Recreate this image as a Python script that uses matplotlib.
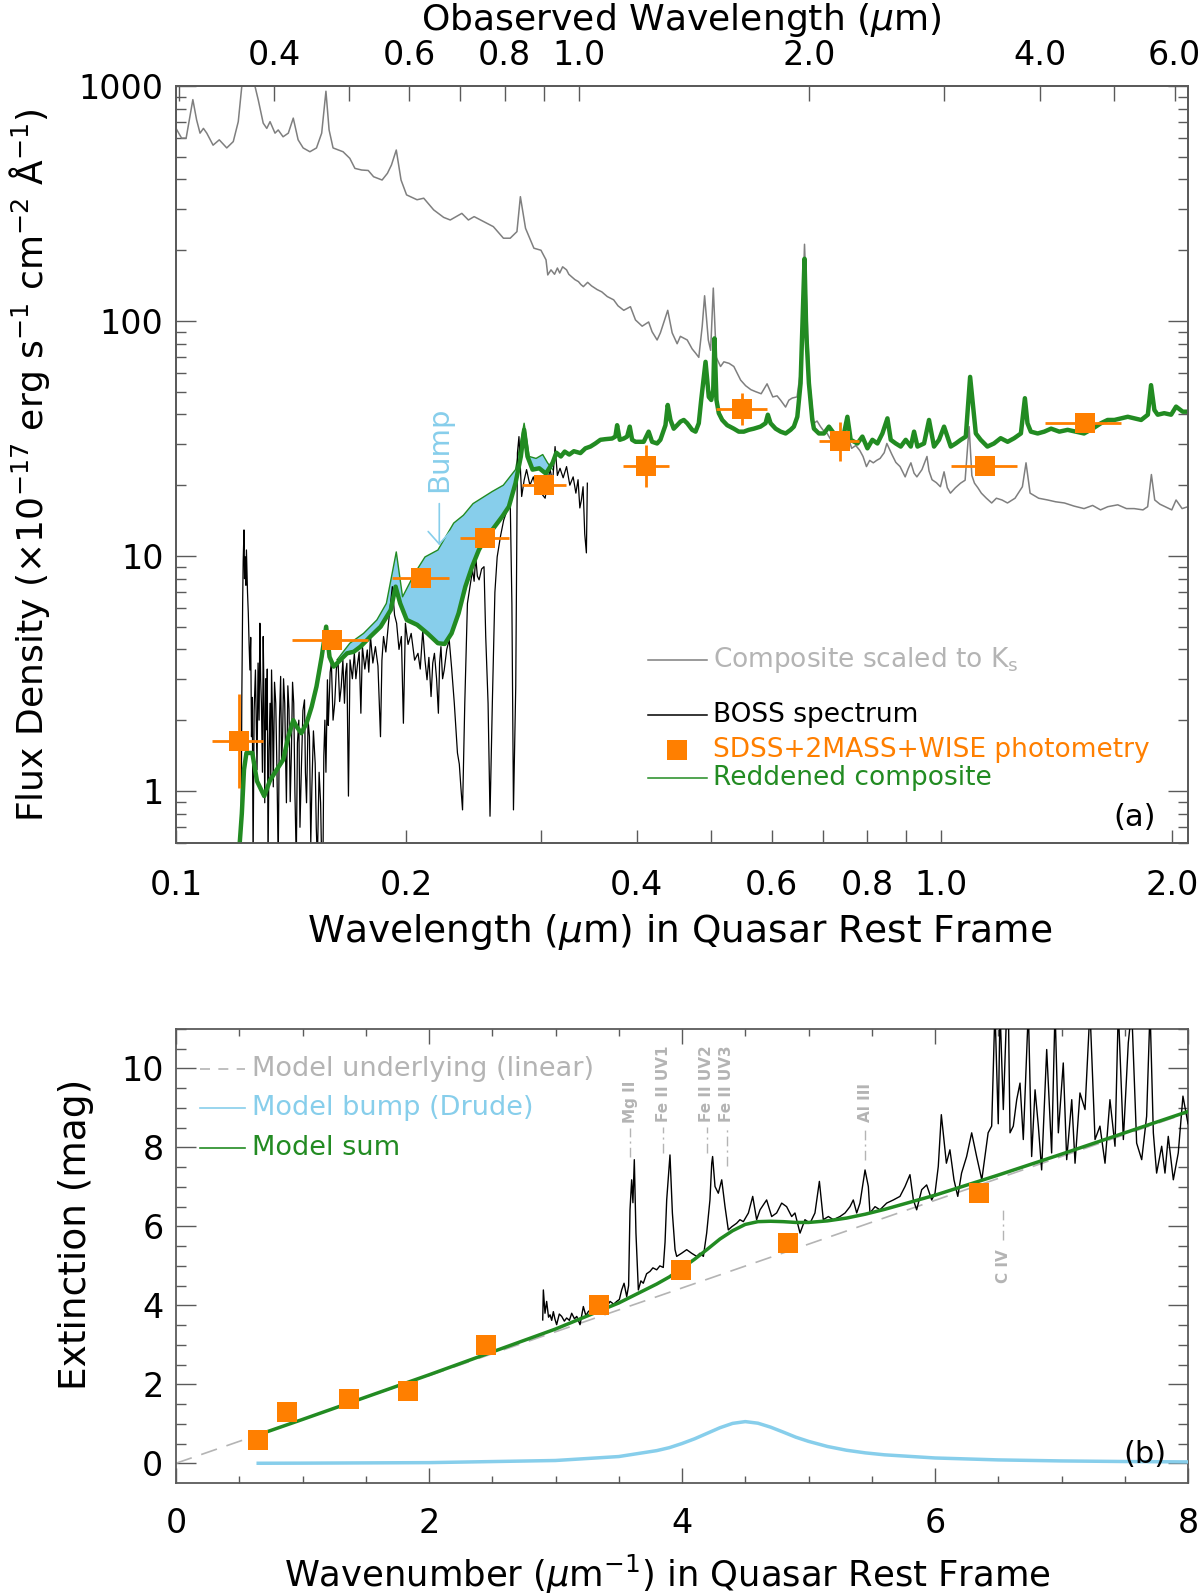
import numpy as np
import matplotlib
matplotlib.use('Agg')
import matplotlib.pyplot as plt
from matplotlib.ticker import NullLocator

plt.rcParams['font.family'] = ['DejaVu Sans']
plt.rcParams['mathtext.default'] = 'regular'
plt.rcParams['mathtext.fontset'] = 'dejavusans'

# ---------------- panel (a): flux density vs rest wavelength ----------------
ONE_PLUS_Z = 2.975

# composite quasar spectrum scaled to Ks  (rest wavelength um, flux)
composite = [
    (0.1000, 660), (0.1017, 600), (0.1031, 600), (0.1041, 717), (0.1052, 875), (0.1064, 717),
    (0.1075, 630), (0.1086, 660), (0.1097, 630), (0.1118, 560), (0.1139, 590), (0.1165, 545),
    (0.1188, 580), (0.1206, 705), (0.1219, 1000), (0.1240, 1600), (0.1268, 1000), (0.1281, 870),
    (0.1300, 695), (0.1314, 660), (0.1327, 705), (0.1347, 630), (0.1360, 650), (0.1380, 608),
    (0.1402, 630), (0.1423, 730), (0.1444, 590), (0.1466, 545), (0.1496, 525), (0.1526, 545),
    (0.1550, 630), (0.1570, 950), (0.1585, 650), (0.1604, 545), (0.1653, 525), (0.1687, 492),
    (0.1713, 446), (0.1748, 439), (0.1783, 437), (0.1812, 411), (0.1859, 398), (0.1889, 425),
    (0.1912, 461), (0.1940, 534), (0.1968, 398), (0.2001, 344), (0.2065, 328), (0.2107, 333),
    (0.2171, 297), (0.2237, 276), (0.2282, 269), (0.2363, 287), (0.2410, 269), (0.2452, 278),
    (0.2522, 265), (0.2598, 252), (0.2678, 225), (0.2733, 225), (0.2789, 240), (0.2818, 338),
    (0.2862, 248), (0.2935, 204), (0.2998, 200), (0.3044, 182), (0.3060, 157), (0.3090, 165),
    (0.3123, 158), (0.3150, 168), (0.3172, 160), (0.3200, 170), (0.3238, 165), (0.3260, 158),
    (0.3289, 154), (0.3320, 150), (0.3356, 147), (0.3380, 143), (0.3406, 140), (0.3450, 146),
    (0.3491, 141), (0.3550, 136), (0.3600, 133), (0.3660, 127), (0.3731, 123), (0.3780, 116),
    (0.3846, 111), (0.3924, 115), (0.3984, 101), (0.4065, 95), (0.4145, 99), (0.4188, 90),
    (0.4252, 83), (0.4294, 89), (0.4390, 111), (0.4449, 89), (0.4516, 80), (0.4560, 86),
    (0.4655, 83), (0.4725, 76), (0.4773, 73), (0.4820, 70), (0.4870, 95), (0.4905, 128),
    (0.4960, 83), (0.4995, 75), (0.5035, 138), (0.5080, 70), (0.5146, 64), (0.5198, 67),
    (0.5280, 66), (0.5356, 64), (0.5467, 56), (0.5550, 53), (0.5638, 51), (0.5720, 50),
    (0.5815, 49), (0.5919, 54), (0.6022, 47.5), (0.6100, 48), (0.6165, 46), (0.6258, 43),
    (0.6320, 46), (0.6386, 47), (0.6478, 47.5), (0.6540, 60), (0.6590, 120), (0.6625, 212),
    (0.6665, 120), (0.6726, 55), (0.6813, 36.7), (0.6880, 37.5), (0.6951, 35.5), (0.7020, 34),
    (0.7092, 33.2), (0.7160, 31.5), (0.7236, 30.1), (0.7330, 31), (0.7450, 30.1), (0.7537, 33),
    (0.7634, 28.7), (0.7730, 29.5), (0.7824, 28.1), (0.7900, 26.5), (0.7982, 24.0), (0.8060, 25.5),
    (0.8148, 24.9), (0.8230, 25.5), (0.8316, 26.0), (0.8420, 27.5), (0.8487, 30.1), (0.8618, 27.0),
    (0.8720, 25.0), (0.8831, 24.0), (0.8968, 21.7), (0.9050, 23.5), (0.9124, 24.9), (0.9211, 22.5),
    (0.9290, 21.7), (0.9432, 23.3), (0.9576, 26.5), (0.9635, 23), (0.9723, 21.1), (0.9850, 20.5),
    (0.9970, 19.7), (1.0081, 22.8), (1.0180, 19.5), (1.0276, 18.5), (1.0430, 19.5), (1.0594, 20.4),
    (1.0740, 21.0), (1.0870, 35.5), (1.0960, 22.0), (1.1047, 20.4), (1.1160, 19.5), (1.1278, 18.5),
    (1.1450, 17.6), (1.1633, 16.8), (1.1800, 17.6), (1.200, 17.3), (1.220, 16.8), (1.248, 17.6),
    (1.276, 19.7), (1.290, 24.9), (1.306, 18.5), (1.340, 17.6), (1.377, 17.3), (1.410, 17.0),
    (1.448, 16.8), (1.490, 16.3), (1.536, 15.9), (1.576, 16.4), (1.614, 15.7), (1.650, 16.2),
    (1.700, 16.5), (1.745, 15.9), (1.786, 15.9), (1.834, 15.7), (1.860, 16.2), (1.881, 22.2),
    (1.900, 17.3), (1.930, 16.6), (1.960, 16.2), (2.000, 15.7), (2.026, 17.3), (2.063, 15.9),
    (2.100, 16.2),
]

# reddened composite (thick green)
reddened = [
    (0.1209, 0.55), (0.1219, 0.80), (0.1227, 1.23), (0.1236, 1.45), (0.1258, 1.45), (0.1276, 1.10),
    (0.1304, 0.95), (0.1327, 1.11), (0.1354, 1.23), (0.1381, 1.36), (0.1402, 1.70), (0.1423, 2.00),
    (0.1437, 1.88), (0.1458, 1.76), (0.1481, 1.94), (0.1504, 2.28), (0.1526, 2.78), (0.1550, 3.72),
    (0.1571, 5.00), (0.1587, 3.72), (0.1607, 3.38), (0.1640, 3.61), (0.1673, 3.85), (0.1707, 3.91),
    (0.1742, 4.11), (0.1795, 4.54), (0.1851, 5.00), (0.1908, 5.89), (0.1936, 7.40), (0.1963, 6.28),
    (0.2002, 5.34), (0.2066, 5.09), (0.2131, 4.68), (0.2199, 4.25), (0.2244, 4.22), (0.2291, 4.68),
    (0.2340, 5.70), (0.2388, 7.40), (0.2437, 9.0), (0.2487, 10.6), (0.2537, 11.9), (0.2589, 12.9),
    (0.2668, 14.7), (0.2722, 16.2), (0.2777, 20.4), (0.2822, 26.5), (0.2850, 34.4), (0.2879, 26.5),
    (0.2923, 23.3), (0.2983, 23.6), (0.3043, 22.4), (0.3105, 24.9), (0.3140, 27.5), (0.3183, 26.5),
    (0.3220, 27.8), (0.3264, 27.0), (0.3310, 27.9), (0.3376, 27.4), (0.3427, 28.7), (0.3479, 29.2),
    (0.3531, 30.1), (0.3585, 31.2), (0.3639, 31.4), (0.3713, 31.6), (0.3750, 32.2), (0.3770, 36.0),
    (0.3800, 31.2), (0.3846, 31.6), (0.3885, 32.2), (0.3916, 35.5), (0.3944, 31.2), (0.3984, 30.6),
    (0.4084, 30.6), (0.4145, 33.8), (0.4188, 30.6), (0.4252, 30.1), (0.4294, 31.2), (0.4360, 36.0),
    (0.4390, 43.9), (0.4426, 37.9), (0.4470, 34.8), (0.4516, 36.0), (0.4562, 37.3), (0.4607, 37.9),
    (0.4655, 36.7), (0.4725, 34.4), (0.4773, 33.8), (0.4820, 36.7), (0.4855, 46.1), (0.4919, 67.0),
    (0.4967, 47.5), (0.5004, 46.1), (0.5034, 50.9), (0.5053, 84.3), (0.5083, 46.1), (0.5119, 40.5),
    (0.5172, 37.9), (0.5250, 36.0), (0.5355, 34.8), (0.5436, 33.8), (0.5519, 33.8), (0.5602, 34.4),
    (0.5688, 34.8), (0.5803, 35.5), (0.5892, 36.7), (0.5933, 39.9), (0.5982, 36.7), (0.6073, 34.8),
    (0.6165, 33.8), (0.6259, 33.2), (0.6353, 34.4), (0.6416, 35.5), (0.6483, 39.1), (0.6547, 54.3),
    (0.6625, 184), (0.6660, 88.6), (0.6713, 54.3), (0.6782, 37.9), (0.6815, 34.8), (0.6918, 33.2),
    (0.7024, 33.2), (0.7130, 35.5), (0.7238, 33.2), (0.7348, 32.2), (0.7460, 33.2), (0.7537, 39.1),
    (0.7612, 31.2), (0.7767, 30.1), (0.7885, 32.2), (0.8005, 28.7), (0.8126, 31.2), (0.8249, 30.1),
    (0.8374, 33.2), (0.8502, 38.5), (0.8587, 31.2), (0.8717, 30.1), (0.8849, 29.2), (0.8983, 31.2),
    (0.9120, 29.2), (0.9211, 33.8), (0.9306, 29.2), (0.9492, 30.1), (0.9635, 37.9), (0.9781, 29.2),
    (0.9930, 31.2), (1.0081, 35.5), (1.0286, 29.2), (1.0442, 30.1), (1.0601, 31.2), (1.0762, 32.2),
    (1.0903, 57.8), (1.1015, 41.8), (1.1092, 33.2), (1.1255, 31.2), (1.1484, 29.2), (1.1714, 30.1),
    (1.1953, 31.7), (1.2206, 30.6), (1.2450, 31.7), (1.2702, 33.2), (1.2856, 46.9), (1.2957, 36.7),
    (1.3088, 33.8), (1.336, 33.2), (1.3628, 33.8), (1.391, 34.8), (1.426, 33.8), (1.462, 34.4),
    (1.499, 33.8), (1.536, 33.2), (1.576, 34.8), (1.616, 36.7), (1.649, 37.9), (1.683, 37.9),
    (1.717, 38.5), (1.752, 39.1), (1.787, 38.5), (1.824, 37.9), (1.861, 39.9), (1.879, 53.3),
    (1.898, 41.8), (1.917, 39.9), (1.955, 40.5), (1.996, 39.9), (2.026, 43.2), (2.067, 41.1),
    (2.100, 41.1),
]

# reddened composite without the 2175A bump (upper edge of the blue region)
no_bump = [
    (0.1623, 3.61), (0.1687, 4.25), (0.1758, 4.68), (0.1830, 5.34), (0.1883, 6.28), (0.1940, 10.4),
    (0.1977, 6.70), (0.2049, 8.4), (0.2115, 9.9), (0.2199, 10.6), (0.2306, 13.8), (0.2374, 14.9),
    (0.2444, 16.7), (0.2589, 18.8), (0.2677, 20.0), (0.2777, 23.3), (0.2850, 36.7), (0.2894, 26.5),
    (0.2954, 26.0), (0.3014, 27.0), (0.3058, 24.9), (0.3105, 23.3),
]

# BOSS spectrum (rest wavelength um, flux)
boss = [
    (0.1216, 0.5), (0.1219, 2.5), (0.1222, 6.28), (0.1224, 9.5), (0.1227, 12.9), (0.1229, 8.0),
    (0.1232, 9.9), (0.1234, 7.5), (0.1236, 10.6), (0.1240, 7.0), (0.1243, 5.7), (0.1246, 4.2),
    (0.1249, 3.27), (0.1252, 4.5), (0.1255, 1.70), (0.1258, 2.5), (0.1261, 0.5), (0.1265, 2.2),
    (0.1270, 3.27), (0.1273, 2.0), (0.1276, 1.23), (0.1280, 3.5), (0.1284, 2.0), (0.1287, 5.17),
    (0.1290, 3.0), (0.1293, 2.36), (0.1297, 1.2), (0.1300, 4.54), (0.1303, 2.5), (0.1306, 0.89),
    (0.1310, 3.0), (0.1313, 1.82), (0.1316, 3.3), (0.1319, 0.5), (0.1323, 1.5), (0.1327, 2.36),
    (0.1330, 1.1), (0.1333, 3.27), (0.1337, 2.0), (0.1340, 1.04), (0.1345, 2.9), (0.1350, 2.36),
    (0.1355, 1.2), (0.1360, 0.5), (0.1365, 2.0), (0.1370, 3.07), (0.1374, 1.3), (0.1378, 1.70),
    (0.1382, 3.0), (0.1387, 2.36), (0.1390, 1.5), (0.1394, 0.89), (0.1400, 2.8), (0.1405, 2.21),
    (0.1410, 0.9), (0.1415, 1.45), (0.1420, 2.9), (0.1425, 2.36), (0.1430, 1.0), (0.1436, 0.5),
    (0.1441, 1.6), (0.1447, 2.0), (0.1452, 0.7), (0.1458, 1.23), (0.1465, 2.2), (0.1472, 2.44),
    (0.1476, 1.2), (0.1481, 0.89), (0.1488, 2.0), (0.1494, 1.70), (0.1500, 0.6), (0.1505, 1.04),
    (0.1512, 1.8), (0.1520, 1.31), (0.1525, 0.7), (0.1530, 0.5), (0.1538, 1.2), (0.1545, 0.89),
    (0.1550, 0.5), (0.1556, 0.5), (0.1560, 1.4), (0.1565, 2.0), (0.1570, 1.2), (0.1577, 2.97),
    (0.1581, 1.9), (0.1585, 2.36), (0.1590, 3.2), (0.1596, 3.49), (0.1604, 2.0), (0.1612, 2.36),
    (0.1620, 3.3), (0.1628, 3.61), (0.1636, 2.4), (0.1644, 2.78), (0.1652, 3.6), (0.1660, 2.36),
    (0.1666, 3.2), (0.1672, 3.49), (0.1680, 0.95), (0.1688, 3.61), (0.1700, 3.0), (0.1710, 3.85),
    (0.1718, 3.0), (0.1727, 3.49), (0.1735, 3.9), (0.1744, 2.14), (0.1752, 4.11), (0.1765, 3.3),
    (0.1778, 3.98), (0.1786, 3.2), (0.1795, 4.54), (0.1808, 3.5), (0.1822, 4.11), (0.1836, 3.4),
    (0.1850, 1.70), (0.1858, 3.6), (0.1867, 4.54), (0.1880, 3.9), (0.1895, 5.17), (0.1917, 7.40),
    (0.1930, 5.6), (0.1942, 5.17), (0.1956, 4.0), (0.1970, 4.54), (0.1982, 1.94), (0.1994, 5.17),
    (0.2010, 4.2), (0.2029, 4.68), (0.2050, 3.6), (0.2071, 3.85), (0.2085, 3.3), (0.2101, 4.83),
    (0.2115, 3.6), (0.2128, 2.97), (0.2140, 3.7), (0.2154, 2.52), (0.2165, 3.5), (0.2176, 3.85),
    (0.2190, 3.0), (0.2202, 2.14), (0.2210, 3.5), (0.2219, 4.11), (0.2230, 3.0), (0.2241, 3.27),
    (0.2258, 4.0), (0.2275, 4.39), (0.2292, 3.3), (0.2310, 2.36), (0.2320, 1.9), (0.2332, 1.45),
    (0.2345, 1.3), (0.2356, 1.04), (0.2368, 0.83), (0.2384, 2.36), (0.2403, 6.28), (0.2420, 7.3),
    (0.2440, 8.7), (0.2452, 7.8), (0.2464, 9.9), (0.2476, 8.2), (0.2489, 7.91), (0.2508, 8.8),
    (0.2526, 9.0), (0.2539, 4.54), (0.2557, 2.36), (0.2572, 0.78), (0.2590, 2.36), (0.2610, 7.0),
    (0.2628, 9.9), (0.2654, 12.1), (0.2680, 14.2), (0.2705, 15.5), (0.2733, 17.3), (0.2747, 6.28),
    (0.2760, 0.83), (0.2779, 2.78), (0.2793, 27.4), (0.2806, 32.2), (0.2829, 17.9), (0.2850, 21.0),
    (0.2871, 23.3), (0.2900, 20.0), (0.2930, 21.7), (0.2950, 19.5), (0.2975, 21.1), (0.3000, 18.5),
    (0.3036, 17.6), (0.3060, 21.0), (0.3082, 23.3), (0.3105, 20.5), (0.3128, 29.2), (0.3150, 22.0),
    (0.3175, 23.6), (0.3205, 21.5), (0.3238, 24.0), (0.3270, 20.0), (0.3303, 21.7), (0.3330, 18.5),
    (0.3352, 21.1), (0.3370, 16.0), (0.3386, 17.3), (0.3403, 19.7), (0.3420, 12.4), (0.3437, 10.3),
    (0.3447, 20.4),
]

# SDSS+2MASS+WISE photometry
phot_wave = [0.1210, 0.1601, 0.2091, 0.2536, 0.3023, 0.4117, 0.5492, 0.7364, 1.140, 1.540]
phot_wave_lo = [0.1116, 0.1419, 0.1915, 0.2347, 0.2832, 0.3838, 0.5069, 0.6919, 1.0307, 1.3666]
phot_wave_hi = [0.1301, 0.1784, 0.2273, 0.2725, 0.3229, 0.4403, 0.5922, 0.7805, 1.254, 1.7165]
phot_flux = [1.63, 4.39, 8.04, 11.96, 20.05, 24.23, 42.2, 30.95, 24.15, 36.7]
phot_flux_lo = [1.03, 4.39, 8.04, 11.96, 20.05, 19.66, 36.1, 25.4, 24.15, 36.7]
phot_flux_hi = [2.59, 4.39, 8.04, 11.96, 20.05, 29.67, 49.2, 37.3, 24.15, 36.7]

rest_ticks = [0.1, 0.2, 0.3, 0.4, 0.5, 0.6, 0.7, 0.8, 0.9, 1.0, 2.0]
rest_labels = ['0.1', '0.2', '', '0.4', '', '0.6', '', '0.8', '', '1.0', '2.0']
obs_ticks = [0.3, 0.4, 0.5, 0.6, 0.7, 0.8, 0.9, 1.0, 2.0, 3.0, 4.0, 5.0, 6.0]
obs_labels = ['', '0.4', '', '0.6', '', '0.8', '', '1.0', '2.0', '', '4.0', '', '6.0']
flux_ticks = [1, 10, 100, 1000]
flux_labels = ['1', '10', '100', '1000']

# ---------------- panel (b): extinction vs wavenumber ----------------
ext_phot_k = [0.646, 0.877, 1.368, 1.834, 2.45, 3.34, 3.99, 4.84, 6.35]
ext_phot_a = [0.59, 1.29, 1.62, 1.83, 3.00, 4.00, 4.90, 5.58, 6.85]

ext_spectrum = [
    (2.899, 3.63), (2.904, 4.39), (2.917, 3.80), (2.930, 4.10), (2.945, 3.70), (2.957, 3.76),
    (2.970, 3.62), (2.983, 3.84), (2.995, 3.66), (3.009, 3.51), (3.030, 3.78), (3.049, 3.72),
    (3.070, 3.60), (3.088, 3.68), (3.110, 3.62), (3.128, 3.80), (3.150, 3.66), (3.168, 3.72),
    (3.194, 3.51), (3.220, 3.97), (3.240, 3.74), (3.259, 3.84), (3.280, 3.90), (3.299, 4.01),
    (3.340, 3.92), (3.378, 4.01), (3.405, 3.96), (3.431, 4.10), (3.460, 4.03), (3.484, 4.10),
    (3.505, 4.15), (3.523, 4.39), (3.542, 4.56), (3.563, 4.22), (3.578, 4.50), (3.589, 6.42),
    (3.602, 7.18), (3.612, 6.6), (3.623, 7.69), (3.636, 5.83), (3.655, 4.39), (3.675, 4.62),
    (3.694, 4.56), (3.720, 4.80), (3.747, 4.86), (3.770, 4.95), (3.800, 4.90), (3.825, 5.00),
    (3.852, 4.96), (3.866, 5.60), (3.879, 6.67), (3.905, 7.81), (3.924, 6.34), (3.945, 5.41),
    (3.958, 5.24), (3.997, 5.32), (4.037, 5.41), (4.076, 5.32), (4.116, 5.24), (4.142, 5.32),
    (4.169, 5.24), (4.195, 5.83), (4.221, 6.67), (4.235, 7.60), (4.242, 7.77), (4.261, 7.01),
    (4.287, 6.84), (4.314, 7.18), (4.340, 6.50), (4.366, 5.91), (4.393, 5.99), (4.432, 6.08),
    (4.458, 6.17), (4.485, 6.12), (4.525, 6.34), (4.559, 6.76), (4.590, 6.17), (4.617, 6.42),
    (4.669, 6.67), (4.709, 6.25), (4.748, 6.34), (4.788, 6.59), (4.827, 6.50), (4.867, 6.25),
    (4.893, 6.34), (4.933, 5.83), (4.972, 6.17), (5.012, 6.08), (5.051, 6.34), (5.086, 7.14),
    (5.117, 6.17), (5.157, 6.25), (5.196, 6.17), (5.249, 6.25), (5.289, 6.34), (5.328, 6.50),
    (5.354, 6.67), (5.381, 6.34), (5.407, 6.59), (5.447, 7.43), (5.473, 7.01), (5.486, 6.34),
    (5.526, 6.50), (5.565, 6.42), (5.618, 6.59), (5.671, 6.67), (5.723, 6.76), (5.763, 7.01),
    (5.802, 7.31), (5.829, 6.67), (5.855, 6.42), (5.895, 6.93), (5.934, 7.05), (5.974, 6.67),
    (6.000, 6.84), (6.026, 7.52), (6.050, 8.83), (6.090, 7.60), (6.118, 7.94), (6.150, 7.18),
    (6.180, 6.76), (6.210, 7.35), (6.250, 7.77), (6.290, 8.37), (6.329, 7.77), (6.370, 7.18),
    (6.395, 7.77), (6.420, 8.37), (6.448, 8.54), (6.474, 11.5), (6.500, 8.60), (6.514, 11.5),
    (6.540, 8.96), (6.567, 11.5), (6.580, 11.5), (6.593, 8.37), (6.619, 8.54), (6.646, 9.21),
    (6.672, 9.63), (6.698, 8.20), (6.738, 11.5), (6.764, 7.77), (6.791, 9.46), (6.817, 8.54),
    (6.843, 7.43), (6.883, 10.48), (6.922, 7.86), (6.949, 11.5), (6.975, 8.37), (7.014, 10.14),
    (7.041, 7.69), (7.081, 9.21), (7.107, 7.60), (7.146, 9.38), (7.186, 8.96), (7.225, 11.5),
    (7.265, 8.20), (7.304, 8.54), (7.344, 7.60), (7.383, 9.21), (7.423, 8.03), (7.449, 11.5),
    (7.489, 8.20), (7.528, 10.65), (7.555, 11.5), (7.594, 8.11), (7.634, 7.69), (7.673, 8.79),
    (7.700, 11.5), (7.726, 8.37), (7.752, 7.35), (7.792, 8.03), (7.818, 7.35), (7.844, 8.28),
    (7.884, 7.18), (7.923, 7.86), (7.960, 9.30), (8.000, 8.60),
]

model_linear = [(0.0, 0.0), (8.0, 8.88)]
model_bump = [
    (0.65, 0.00), (1.0, 0.003), (2.0, 0.016), (3.0, 0.070), (3.5, 0.17), (3.8, 0.32), (3.9, 0.395),
    (4.0, 0.50), (4.1, 0.62), (4.2, 0.76), (4.3, 0.90), (4.4, 1.01), (4.5, 1.055), (4.6, 1.015),
    (4.7, 0.915), (4.8, 0.79), (4.9, 0.66), (5.0, 0.555), (5.15, 0.425), (5.3, 0.33), (5.45, 0.263),
    (5.6, 0.214), (6.0, 0.134), (6.5, 0.085), (7.0, 0.059), (7.5, 0.044), (8.0, 0.034),
]
model_sum = [
    (0.65, 0.72), (1.0, 1.11), (2.0, 2.24), (3.0, 3.40), (3.5, 4.06), (3.8, 4.54), (3.9, 4.72),
    (4.0, 4.94), (4.1, 5.17), (4.2, 5.42), (4.3, 5.68), (4.4, 5.89), (4.5, 6.05), (4.6, 6.12),
    (4.7, 6.13), (4.8, 6.12), (4.9, 6.10), (5.0, 6.10), (5.15, 6.14), (5.3, 6.21), (5.45, 6.31),
    (5.6, 6.43), (6.0, 6.79), (6.5, 7.30), (7.0, 7.83), (7.5, 8.37), (8.0, 8.91),
]

# emission-line markers
line_names = ['Mg II', 'Fe II UV1', 'Fe II UV2', 'Fe II UV3', 'Al III', 'C IV']
line_k = [3.59, 3.85, 4.195, 4.353, 5.447, 6.54]
line_top = [8.50, 8.52, 8.53, 8.53, 8.53, 6.50]
line_bottom = [7.76, 7.87, 7.86, 7.52, 7.69, 5.66]

# ---------------- style ----------------
GREY = '#7f7f7f'
LIGHT = '#b4b4b4'
GREEN = '#228b22'
ORANGE = '#ff7f00'
SKY = '#87ceeb'
FRAME = '#5a5a5a'

W, H = 1200, 1596
fig = plt.figure(figsize=(W / 100, H / 100), dpi=100)


def frac(l, t, r, b):
    return [l / W, 1 - b / H, (r - l) / W, (b - t) / H]


ax = fig.add_axes(frac(176, 86, 1188, 843))
axb = fig.add_axes(frac(176, 1029, 1188, 1483))

# ---- panel (a) ----
ax.set_xscale('log')
ax.set_yscale('log')
cx, cy = np.array(composite).T
ax.plot(cx, cy, color=GREY, lw=1.1, zorder=2)

rx, ry = np.array(reddened).T
ux, uy = np.array(no_bump).T
m = (rx >= ux[0]) & (rx <= ux[-1])
ax.fill(np.concatenate([ux, rx[m][::-1]]), np.concatenate([uy, ry[m][::-1]]),
        color=SKY, lw=0, zorder=3)
ax.plot(ux, uy, color=GREEN, lw=1.0, zorder=4)

bx, by = np.array(boss).T
ax.plot(bx, by, color='black', lw=0.9, zorder=4)
ax.plot(rx, ry, color=GREEN, lw=3.2, zorder=5)

pw = np.array(phot_wave)
pf = np.array(phot_flux)
ax.errorbar(pw, pf,
            xerr=[pw - np.array(phot_wave_lo), np.array(phot_wave_hi) - pw],
            yerr=[pf - np.array(phot_flux_lo), np.array(phot_flux_hi) - pf],
            fmt='s', ms=14, color=ORANGE, ecolor=ORANGE, elinewidth=2, capsize=6,
            capthick=2, mew=0, zorder=6)

ax.annotate('', xy=(0.2208, 11.1), xytext=(0.2208, 16.7),
            arrowprops=dict(arrowstyle='->,head_length=0.45,head_width=0.4', color=SKY,
                            lw=1.2, mutation_scale=20, shrinkA=0, shrinkB=0), zorder=7)
ax.text(0.2208, 28.5, 'Bump', rotation=90, color=SKY, fontsize=21, ha='center',
        va='center', zorder=7)

ax.set_xlim(0.1, 2.10)
ax.set_ylim(0.6, 1000)
ax.set_xticks(rest_ticks, rest_labels)
ax.xaxis.set_minor_locator(NullLocator())
ax.set_yticks(flux_ticks, flux_labels)
ax.set_yticks([v * d for d in (0.1, 1, 10, 100) for v in range(2, 10) if 0.6 <= v * d <= 1000],
              minor=True)
ax.yaxis.set_ticklabels([], minor=True)
ax.tick_params(axis='x', which='both', direction='in', length=9.4, width=1, color=FRAME,
               labelsize=24, pad=19, top=False)
ax.tick_params(axis='y', which='major', direction='in', length=14.4, width=1, color=FRAME,
               labelsize=24, pad=9, right=True)
ax.tick_params(axis='y', which='minor', direction='in', length=7.2, width=1, color=FRAME,
               right=True)

axt = ax.twiny()
axt.set_xscale('log')
axt.set_xlim(0.1 * ONE_PLUS_Z, 2.10 * ONE_PLUS_Z)
axt.set_xticks(obs_ticks, obs_labels)
axt.xaxis.set_minor_locator(NullLocator())
axt.tick_params(axis='x', which='both', direction='in', length=10.8, width=1, color=FRAME,
                labelsize=24, pad=10)
for a in (ax, axt):
    for s in a.spines.values():
        s.set_color(FRAME)
        s.set_linewidth(1.3)

T = ax.transAxes
ax.plot([0.4664, 0.5247], [0.2417, 0.2417], color=GREY, lw=1.1, transform=T)
ax.text(0.5306, 0.2417, 'Composite scaled to K$_s$', color=LIGHT, fontsize=19,
        va='center', transform=T)
ax.plot([0.4664, 0.5247], [0.1691, 0.1691], color='black', lw=1.1, transform=T)
ax.text(0.5306, 0.1691, 'BOSS spectrum', color='black', fontsize=19, va='center', transform=T)
ax.plot([0.495], [0.1229], 's', ms=14, color=ORANGE, mew=0, transform=T)
ax.text(0.5306, 0.1229, 'SDSS+2MASS+WISE photometry', color=ORANGE, fontsize=19,
        va='center', transform=T)
ax.plot([0.4664, 0.5247], [0.0859, 0.0859], color=GREEN, lw=1.1, transform=T)
ax.text(0.5306, 0.0859, 'Reddened composite', color=GREEN, fontsize=19, va='center',
        transform=T)
ax.text(0.9476, 0.034, '(a)', fontsize=22, ha='center', va='center', transform=T)

# ---- panel (b) ----
lx, ly = np.array(model_linear).T
axb.plot(lx, ly, color=LIGHT, lw=1.2, dashes=(10, 6), zorder=2)
kx, ka = np.array(ext_spectrum).T
axb.plot(kx, ka, color='black', lw=1.0, zorder=3)
dx, dy = np.array(model_bump).T
axb.plot(dx, dy, color=SKY, lw=2.5, zorder=3)
sx, sy = np.array(model_sum).T
axb.plot(sx, sy, color=GREEN, lw=2.5, zorder=4)
axb.plot(ext_phot_k, ext_phot_a, 's', ms=14, color=ORANGE, mew=0, zorder=5)

for name, k, top, bot in zip(line_names, line_k, line_top, line_bottom):
    axb.plot([k, k], [bot, top], color=LIGHT, lw=1.0, dashes=(7, 3, 1.5, 3), zorder=2)
    if name == 'C IV':
        axb.text(k, 5.41, name, rotation=90, ha='center', va='top', fontsize=11,
                 fontweight='bold', color=LIGHT)
    else:
        axb.text(k, top + 0.12, name, rotation=90, ha='center', va='bottom', fontsize=11,
                 fontweight='bold', color=LIGHT)

axb.set_xlim(0, 8)
axb.set_ylim(-0.5, 11)
axb.set_xticks([0, 2, 4, 6, 8])
axb.set_xticks(np.arange(0, 8.01, 0.5), minor=True)
axb.set_yticks([0, 2, 4, 6, 8, 10])
axb.set_yticks(np.arange(0, 11.01, 0.5), minor=True)
axb.tick_params(which='major', direction='in', length=10.8, width=1, color=FRAME,
                labelsize=24, top=True, right=True)
axb.tick_params(axis='x', which='major', pad=17.5)
axb.tick_params(axis='y', which='major', length=14.4, pad=9)
axb.tick_params(which='minor', direction='in', length=5, width=1, color=FRAME, top=True,
                right=True)
axb.tick_params(axis='y', which='minor', length=7.2)
for s in axb.spines.values():
    s.set_color(FRAME)
    s.set_linewidth(1.3)

Tb = axb.transAxes
axb.plot([0.0237, 0.068], [0.9119, 0.9119], color=LIGHT, lw=1.2, dashes=(6, 5), transform=Tb)
axb.text(0.0748, 0.9119, 'Model underlying (linear)', color=LIGHT, fontsize=19.5,
         va='center', transform=Tb)
axb.plot([0.0237, 0.068], [0.8253, 0.8253], color=SKY, lw=1.2, transform=Tb)
axb.text(0.0748, 0.8253, 'Model bump (Drude)', color=SKY, fontsize=19.5, va='center',
         transform=Tb)
axb.plot([0.0237, 0.068], [0.7372, 0.7372], color=GREEN, lw=1.2, transform=Tb)
axb.text(0.0748, 0.7372, 'Model sum', color=GREEN, fontsize=19.5, va='center', transform=Tb)
axb.text(0.9575, 0.062, '(b)', fontsize=22, ha='center', va='center', transform=Tb)

# ---- titles ----
fig.text(681 / W, 1 - 20 / H, r'Obaserved Wavelength ($\mathit{\mu}$m)', fontsize=26,
         ha='center', va='center')
fig.text(680 / W, 1 - 932 / H, r'Wavelength ($\mathit{\mu}$m) in Quasar Rest Frame',
         fontsize=27, ha='center', va='center')
fig.text(30 / W, 1 - 465 / H,
         r'Flux Density ($\times$10$^{-17}$ erg s$^{-1}$ cm$^{-2}$ $\AA^{-1}$)',
         rotation=90, fontsize=26, ha='center', va='center')
fig.text(76 / W, 1 - 1234 / H, 'Extinction (mag)', rotation=90, fontsize=27, ha='center',
         va='center')
fig.text(667 / W, 1 - 1574 / H, r'Wavenumber ($\mathit{\mu}$m$^{-1}$) in Quasar Rest Frame',
         fontsize=25.5, ha='center', va='center')

fig.savefig('out.png', dpi=100)
